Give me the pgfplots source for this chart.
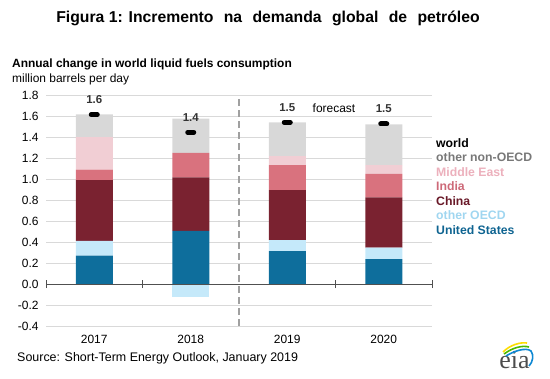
\documentclass[border=0pt]{standalone}
\usepackage{fontspec}
\setmainfont{Liberation Sans}
\newfontfamily\eiafont{Liberation Serif}
\usepackage{pgfplots}
\pgfplotsset{compat=1.18}
\usepackage{pgfplotstable}

\definecolor{cUS}{RGB}{14,110,156}
\definecolor{cOECD}{RGB}{197,233,250}
\definecolor{cChina}{RGB}{122,34,48}
\definecolor{cIndia}{RGB}{217,114,126}
\definecolor{cME}{RGB}{241,206,212}
\definecolor{cONO}{RGB}{216,216,216}
\definecolor{tUS}{RGB}{15,100,145}
\definecolor{tOECD}{RGB}{160,214,240}
\definecolor{tChina}{RGB}{105,25,40}
\definecolor{tIndia}{RGB}{205,105,120}
\definecolor{tME}{RGB}{236,176,188}
\definecolor{tONO}{RGB}{120,120,120}
\definecolor{gridgray}{RGB}{217,217,217}
\definecolor{zerogray}{RGB}{80,80,80}
\definecolor{dashgray}{RGB}{160,160,160}

% components (million barrels per day)
\pgfplotstableread{
x us oecd china india me ono
0 0.270 0.140 0.580 0.100 0.310 0.215
1 0.505 0.000 0.510 0.235 0.000 0.325
2 0.314 0.105 0.476 0.238 0.086 0.321
3 0.238 0.108 0.480 0.222 0.085 0.388
}\comp
\pgfplotstableread{
x neg
1 -0.12
}\negtab
\pgfplotstableread{
x world label
0 1.612 1.6
1 1.445 1.4
2 1.540 1.5
3 1.524 1.5
}\world

\begin{document}
\begin{tikzpicture}
\path[use as bounding box] (0,0) rectangle (550bp,-379bp);

\begin{axis}[
  at={(46bp,-326bp)}, anchor=south west,
  width=386bp, height=231bp, scale only axis,
  xmin=-0.5, xmax=3.5, ymin=-0.4, ymax=1.8,
  axis line style={draw=none},
  ybar stacked, bar width=37bp,
  ytick={-0.4,-0.2,0,0.2,0.4,0.6,0.8,1.0,1.2,1.4,1.6,1.8},
  ymajorgrids, grid style={line width=0.9bp, gridgray},
  xtick={0,1,2,3}, xticklabels={2017,2018,2019,2020},
  major tick length=0pt,
  /pgf/number format/assume math mode=true,
  yticklabel style={/pgf/number format/fixed, /pgf/number format/fixed zerofill, /pgf/number format/precision=1, xshift=-4bp},
  tick label style={font=\fontsize{12}{14}\selectfont},
  xticklabel style={yshift=-6bp},
]
\addplot[fill=cUS, draw=none] table[x=x, y=us] {\comp};
\addplot[fill=cOECD, draw=none] table[x=x, y=oecd] {\comp};
\addplot[fill=cChina, draw=none] table[x=x, y=china] {\comp};
\addplot[fill=cIndia, draw=none] table[x=x, y=india] {\comp};
\addplot[fill=cME, draw=none] table[x=x, y=me] {\comp};
\addplot[fill=cONO, draw=none] table[x=x, y=ono] {\comp};
\end{axis}

\begin{axis}[
  at={(46bp,-326bp)}, anchor=south west,
  width=386bp, height=231bp, scale only axis,
  xmin=-0.5, xmax=3.5, ymin=-0.4, ymax=1.8,
  hide axis, clip=false,
]
\addplot[ybar, bar width=37bp, bar shift=0pt, fill=cOECD, draw=none] table[x=x, y=neg] {\negtab};
\draw[zerogray, line width=1bp] (axis cs:-0.5,0) -- (axis cs:3.5,0);
\draw[zerogray, line width=0.9bp] ([yshift=-4bp]axis cs:-0.5,0) -- ([yshift=4bp]axis cs:-0.5,0);
\draw[zerogray, line width=0.9bp] ([yshift=-4bp]axis cs:0.5,0) -- ([yshift=4bp]axis cs:0.5,0);
\draw[zerogray, line width=0.9bp] ([yshift=-4bp]axis cs:2.5,0) -- ([yshift=4bp]axis cs:2.5,0);
\draw[zerogray, line width=0.9bp] ([yshift=-4bp]axis cs:3.5,0) -- ([yshift=4bp]axis cs:3.5,0);
\draw[dashgray, line width=1.2bp, dash pattern=on 7bp off 4bp] (axis cs:1.5,-0.4) -- (axis cs:1.5,1.8);
\addplot[only marks, mark=-, mark size=3bp,
  mark options={line width=5bp, line cap=round, draw=black},
  nodes near coords, point meta=explicit symbolic,
  every node near coord/.append style={anchor=center, yshift=15bp, font=\bfseries\fontsize{11.5}{13}\selectfont, text=black!80}]
  table[x=x, y=world, meta=label] {\world};
\node[font=\fontsize{12}{14}\selectfont] at (axis cs:2.484,1.676) {forecast};
\end{axis}

% titles
\node[font=\bfseries\fontsize{15.8}{18}\selectfont] at (268bp,-18bp) {Figura 1: Incremento\hspace{6bp} na\hspace{6bp} demanda\hspace{6bp} global\hspace{6bp} de\hspace{6bp} petróleo};
\node[anchor=base west, inner sep=0pt, font=\bfseries\fontsize{12}{14}\selectfont] at (12bp,-67bp) {Annual change in world liquid fuels consumption};
\node[anchor=base west, inner sep=0pt, font=\fontsize{12}{14}\selectfont] at (12bp,-82bp) {million barrels per day};

% legend
\begin{scope}[every node/.style={anchor=west, inner sep=0pt, font=\bfseries\fontsize{12.3}{14}\selectfont}]
\node[text=black] at (436bp,-143bp) {world};
\node[text=tONO] at (436bp,-157.5bp) {other non-OECD};
\node[text=tME] at (436bp,-172bp) {Middle East};
\node[text=tIndia] at (436bp,-186.5bp) {India};
\node[text=tChina] at (436bp,-201bp) {China};
\node[text=tOECD] at (436bp,-215.5bp) {other OECD};
\node[text=tUS] at (436bp,-230bp) {United States};
\end{scope}

% source
\node[anchor=base west, inner sep=0pt, font=\fontsize{12.5}{14}\selectfont] at (17bp,-361bp) {Source: Short-Term Energy Outlook, January 2019};

% eia logo
\node[anchor=base, inner sep=0pt, font=\eiafont\fontsize{26}{28}\selectfont, text=black!70] at (514.5bp,-368bp) {eia};
\draw[line width=1.6bp, yellow!80!orange] (503bp,-352bp) .. controls (510bp,-345bp) and (520bp,-342bp) .. (527bp,-343bp);
\draw[line width=1.6bp, green!60!black!70!yellow] (504bp,-354bp) .. controls (512bp,-348bp) and (522bp,-345bp) .. (529bp,-347bp);
\draw[line width=1.6bp, cyan!70!blue] (506bp,-356bp) .. controls (514bp,-351bp) and (526bp,-347bp) .. (531bp,-351bp) .. controls (534bp,-355bp) and (533bp,-362bp) .. (529bp,-366bp);
\end{tikzpicture}
\end{document}
